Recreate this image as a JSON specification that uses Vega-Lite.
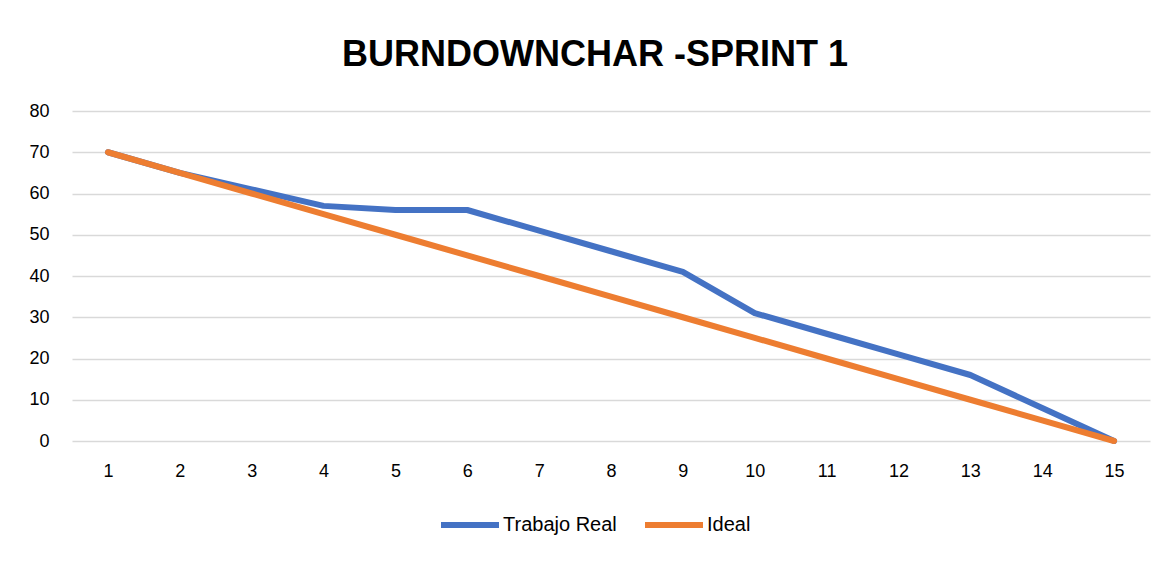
{
  "$schema": "https://vega.github.io/schema/vega-lite/v6.json",
  "autosize": {"type": "none"},
  "width": 1078,
  "height": 330,
  "padding": {"left": 72, "top": 111, "right": 26, "bottom": 120},
  "background": "white",
  "title": {
    "text": "BURNDOWNCHAR -SPRINT 1",
    "font": "Liberation Sans",
    "fontSize": 36,
    "fontWeight": "bold",
    "color": "#000000",
    "anchor": "middle",
    "dx": -16,
    "offset": 28
  },
  "config": {
    "view": {"stroke": null},
    "font": "Liberation Sans"
  },
  "data": {
    "values": [
      {"dia": 1, "serie": "Trabajo Real", "valor": 70},
      {"dia": 2, "serie": "Trabajo Real", "valor": 65},
      {"dia": 3, "serie": "Trabajo Real", "valor": 61},
      {"dia": 4, "serie": "Trabajo Real", "valor": 57},
      {"dia": 5, "serie": "Trabajo Real", "valor": 56},
      {"dia": 6, "serie": "Trabajo Real", "valor": 56},
      {"dia": 7, "serie": "Trabajo Real", "valor": 51},
      {"dia": 8, "serie": "Trabajo Real", "valor": 46},
      {"dia": 9, "serie": "Trabajo Real", "valor": 41},
      {"dia": 10, "serie": "Trabajo Real", "valor": 31},
      {"dia": 11, "serie": "Trabajo Real", "valor": 26},
      {"dia": 12, "serie": "Trabajo Real", "valor": 21},
      {"dia": 13, "serie": "Trabajo Real", "valor": 16},
      {"dia": 14, "serie": "Trabajo Real", "valor": 8},
      {"dia": 15, "serie": "Trabajo Real", "valor": 0},
      {"dia": 1, "serie": "Ideal", "valor": 70},
      {"dia": 2, "serie": "Ideal", "valor": 65},
      {"dia": 3, "serie": "Ideal", "valor": 60},
      {"dia": 4, "serie": "Ideal", "valor": 55},
      {"dia": 5, "serie": "Ideal", "valor": 50},
      {"dia": 6, "serie": "Ideal", "valor": 45},
      {"dia": 7, "serie": "Ideal", "valor": 40},
      {"dia": 8, "serie": "Ideal", "valor": 35},
      {"dia": 9, "serie": "Ideal", "valor": 30},
      {"dia": 10, "serie": "Ideal", "valor": 25},
      {"dia": 11, "serie": "Ideal", "valor": 20},
      {"dia": 12, "serie": "Ideal", "valor": 15},
      {"dia": 13, "serie": "Ideal", "valor": 10},
      {"dia": 14, "serie": "Ideal", "valor": 5},
      {"dia": 15, "serie": "Ideal", "valor": 0}
    ]
  },
  "mark": {"type": "line", "strokeWidth": 6, "strokeCap": "round", "strokeJoin": "round"},
  "encoding": {
    "x": {
      "field": "dia",
      "type": "ordinal",
      "sort": "ascending",
      "scale": {"padding": 0.5},
      "axis": {
        "title": null,
        "labelAngle": 0,
        "labelFontSize": 18,
        "labelColor": "#000000",
        "labelPadding": 21,
        "ticks": false,
        "domain": false,
        "grid": false
      }
    },
    "y": {
      "field": "valor",
      "type": "quantitative",
      "scale": {"domain": [0, 80], "nice": false},
      "axis": {
        "title": null,
        "values": [0, 10, 20, 30, 40, 50, 60, 70, 80],
        "labelFontSize": 18,
        "labelColor": "#000000",
        "labelPadding": 23,
        "ticks": false,
        "domain": false,
        "grid": true,
        "gridColor": "#d9d9d9",
        "gridWidth": 1.5
      }
    },
    "color": {
      "field": "serie",
      "type": "nominal",
      "sort": ["Trabajo Real", "Ideal"],
      "scale": {"domain": ["Trabajo Real", "Ideal"], "range": ["#4472C4", "#ED7D31"]},
      "legend": {
        "title": null,
        "orient": "none",
        "direction": "horizontal",
        "legendX": 366,
        "legendY": 382,
        "symbolType": "stroke",
        "symbolSize": 3364,
        "symbolStrokeWidth": 6,
        "labelFontSize": 20,
        "labelColor": "#000000",
        "labelOffset": 1,
        "columnPadding": 16
      }
    }
  }
}
